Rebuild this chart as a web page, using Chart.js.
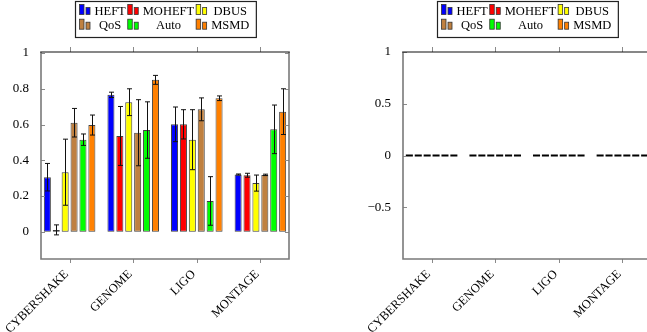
<!DOCTYPE html>
<html>
<head>
<meta charset="utf-8">
<script src="https://cdn.jsdelivr.net/npm/chart.js@4.4.0/dist/chart.umd.min.js"></script>
<style>
  html, body { margin: 0; padding: 0; background: #fff; overflow: hidden; }
  body { width: 647px; height: 332px; position: relative; }
  .panel { position: absolute; top: 0; width: 300px; height: 332px; }
  #leftPanel { left: 0; }
  #rightPanel { left: 362px; }
</style>
</head>
<body>
<div class="panel" id="leftPanel"><canvas id="leftChart"></canvas></div>
<div class="panel" id="rightPanel"><canvas id="rightChart"></canvas></div>
<script>
const categories = ['CYBERSHAKE', 'GENOME', 'LIGO', 'MONTAGE'];
const seriesNames = ['HEFT', 'MOHEFT', 'DBUS', 'QoS', 'Auto', 'MSMD'];
const seriesColors = ['#0000ff', '#ff0000', '#ffff00', '#bf8040', '#00ff00', '#ff8000'];

// left panel: bar height and half-width of the error bar
const heftMean   = [0.305, 0.766, 0.601, 0.320];
const heftErr    = [0.077, 0.015, 0.097, 0.003];
const moheftMean = [0.010, 0.536, 0.601, 0.316];
const moheftErr  = [0.028, 0.165, 0.082, 0.011];
const dbusMean   = [0.333, 0.725, 0.515, 0.272];
const dbusErr    = [0.185, 0.075, 0.168, 0.045];
const qosMean    = [0.610, 0.554, 0.685, 0.318];
const qosErr     = [0.080, 0.185, 0.064, 0.004];
const autoMean   = [0.515, 0.569, 0.172, 0.573];
const autoErr    = [0.032, 0.158, 0.136, 0.136];
const msmdMean   = [0.597, 0.850, 0.747, 0.672];
const msmdErr    = [0.056, 0.025, 0.013, 0.128];

// right panel: every series sits at zero
const heftRight   = [0, 0, 0, 0];
const moheftRight = [0, 0, 0, 0];
const dbusRight   = [0, 0, 0, 0];
const qosRight    = [0, 0, 0, 0];
const autoRight   = [0, 0, 0, 0];
const msmdRight   = [0, 0, 0, 0];

const leftTicks = [0, 0.2, 0.4, 0.6, 0.8, 1];
const rightTicks = [-0.5, 0, 0.5, 1];

const leftMeans = [heftMean, moheftMean, dbusMean, qosMean, autoMean, msmdMean];
const leftErrors = [heftErr, moheftErr, dbusErr, qosErr, autoErr, msmdErr];
const rightValues = [heftRight, moheftRight, dbusRight, qosRight, autoRight, msmdRight];

const FONT = '"Liberation Serif", "Times New Roman", serif';

function fmtTick(v) {
    return v < 0 ? '\u2212' + Math.abs(v) : String(v);
}

// frame, tick marks, error bars and the boxed two-row legend
const decorations = {
    id: 'decorations',
    afterDatasetsDraw(chart, args, opts) {
        const ctx = chart.ctx;
        const { left, right, top, bottom } = chart.chartArea;
        const xs = chart.scales.x, ys = chart.scales.y;
        ctx.save();

        // error bars
        if (opts.errors) {
            ctx.strokeStyle = '#111';
            ctx.lineWidth = 1;
            chart.data.datasets.forEach((ds, i) => {
                const meta = chart.getDatasetMeta(i);
                meta.data.forEach((bar, j) => {
                    const m = ds.data[j].y, e = opts.errors[i][j];
                    const yHi = ys.getPixelForValue(m + e);
                    const yLo = ys.getPixelForValue(m - e);
                    const cx = Math.round(bar.x) + 0.5;
                    ctx.beginPath();
                    ctx.moveTo(cx, yHi); ctx.lineTo(cx, yLo);
                    ctx.moveTo(cx - 2.5, yHi); ctx.lineTo(cx + 2.5, yHi);
                    ctx.moveTo(cx - 2.5, yLo); ctx.lineTo(cx + 2.5, yLo);
                    ctx.stroke();
                });
            });
        }

        // tick marks
        ctx.strokeStyle = '#8a8a8a';
        ctx.lineWidth = 1;
        categories.forEach((c, i) => {
            const px = Math.round(xs.getPixelForValue(i)) + 0.5;
            ctx.beginPath();
            ctx.moveTo(px, top); ctx.lineTo(px, top - 5);
            ctx.moveTo(px, bottom); ctx.lineTo(px, bottom + 4);
            ctx.stroke();
        });
        opts.yTicks.forEach(v => {
            const py = Math.round(ys.getPixelForValue(v)) + 0.5;
            ctx.beginPath();
            ctx.moveTo(left, py); ctx.lineTo(left + 4, py);
            ctx.moveTo(right, py); ctx.lineTo(right - 4, py);
            ctx.stroke();
        });

        // frame: grey sides and bottom, dark top
        ctx.strokeStyle = '#7a7a7a';
        ctx.lineWidth = 1.6;
        ctx.beginPath();
        ctx.moveTo(left, top); ctx.lineTo(left, bottom);
        ctx.lineTo(right, bottom); ctx.lineTo(right, top);
        ctx.stroke();
        ctx.strokeStyle = '#111';
        ctx.lineWidth = 1.2;
        ctx.beginPath();
        ctx.moveTo(left - 0.8, top); ctx.lineTo(right + 0.8, top);
        ctx.stroke();

        // legend
        ctx.font = '12.5px ' + FONT;
        const colW = [0, 1, 2].map(c => Math.max(
            ctx.measureText(seriesNames[c]).width,
            ctx.measureText(seriesNames[c + 3]).width));
        const iconW = 12, gapA = 3, gapB = 2, padL = 4, padR = 5;
        const total = padL + padR + colW.reduce((a, w) => a + iconW + gapA + w + gapB, 0);
        const bx = Math.round((left + right) / 2 - total / 2) + 0.5;
        const by = 1.5, bh = 36;
        ctx.strokeStyle = '#222';
        ctx.lineWidth = 1.2;
        ctx.strokeRect(bx, by, total, bh);
        ctx.textBaseline = 'middle';
        ctx.textAlign = 'center';
        ctx.fillStyle = '#000';
        for (let r = 0; r < 2; r++) {
            const cy = by + 9.5 + r * 14.7;
            let cx = bx + padL;
            for (let c = 0; c < 3; c++) {
                const k = r * 3 + c;
                const base = cy + 3.5;
                ctx.lineWidth = 0.8;
                ctx.strokeStyle = '#333';
                ctx.fillStyle = seriesColors[k];
                ctx.fillRect(cx, base - 10, 4.5, 10);
                ctx.strokeRect(cx, base - 10, 4.5, 10);
                ctx.fillRect(cx + 6.5, base - 7, 4, 7);
                ctx.strokeRect(cx + 6.5, base - 7, 4, 7);
                ctx.fillStyle = '#000';
                ctx.fillText(seriesNames[k], cx + iconW + gapA + colW[c] / 2, cy + 0.5);
                cx += iconW + gapA + colW[c] + gapB;
            }
        }
        ctx.restore();
    }
};

function buildChart(canvasId, datasets, yMin, yMax, yTicks, errors) {
    return new Chart(document.getElementById(canvasId), {
        type: 'bar',
        data: { datasets: datasets },
        options: {
            responsive: true,
            maintainAspectRatio: false,
            animation: false,
            layout: { padding: { top: 52, right: 11, bottom: 0, left: 0 } },
            plugins: {
                legend: { display: false },
                tooltip: { enabled: false },
                decorations: { errors: errors, yTicks: yTicks }
            },
            scales: {
                x: {
                    type: 'linear',
                    min: -0.45,
                    max: 3.45,
                    offset: false,
                    grid: { display: false },
                    border: { display: false },
                    afterBuildTicks: s => { s.ticks = categories.map((c, i) => ({ value: i })); },
                    afterFit: s => { s.height = 73; },
                    ticks: {
                        autoSkip: false,
                        minRotation: 45,
                        maxRotation: 45,
                        padding: 0,
                        labelOffset: -3,
                        color: '#000',
                        font: { family: FONT, size: 12.5 },
                        callback: v => categories[v]
                    }
                },
                y: {
                    min: yMin,
                    max: yMax,
                    grid: { display: false },
                    border: { display: false },
                    afterBuildTicks: s => { s.ticks = yTicks.map(v => ({ value: v })); },
                    afterFit: s => { s.width = 41; },
                    ticks: {
                        padding: 4,
                        color: '#000',
                        font: { family: FONT, size: 13 },
                        callback: v => fmtTick(v)
                    }
                }
            }
        },
        plugins: [decorations]
    });
}

const leftSets = seriesNames.map((name, i) => ({
    label: name,
    data: leftMeans[i].map((v, j) => ({ x: j, y: v })),
    backgroundColor: seriesColors[i],
    borderColor: 'rgba(0,0,0,0.75)',
    borderWidth: 1,
    borderSkipped: false,
    categoryPercentage: 0.84,
    barPercentage: 0.79
}));

const rightSets = seriesNames.map((name, i) => ({
    label: name,
    data: rightValues[i].map((v, j) => ({ x: j, y: v })),
    backgroundColor: '#000',
    borderWidth: 0,
    minBarLength: 2,
    categoryPercentage: 0.84,
    barPercentage: 0.79
}));

buildChart('leftChart', leftSets, -0.153, 1.006, leftTicks, leftErrors);
buildChart('rightChart', rightSets, -1, 1, rightTicks, null);
</script>
</body>
</html>
